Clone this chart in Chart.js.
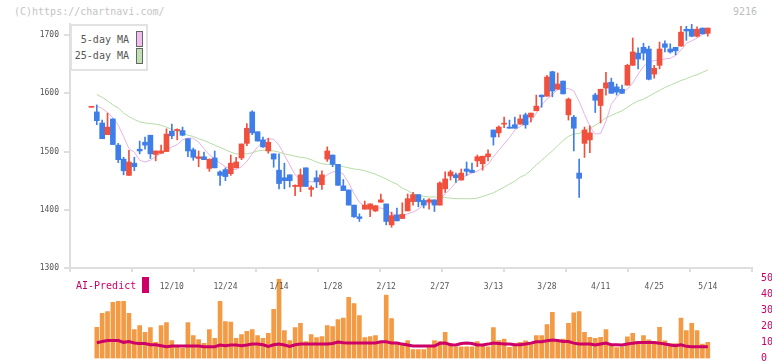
<!DOCTYPE html>
<html>
<head>
<meta charset="utf-8">
<script src="https://cdn.jsdelivr.net/npm/chart.js@4"></script>
<style>
  body { margin: 0; background: #fff; }
  #wrap { position: relative; width: 772px; height: 361px; overflow: hidden; font-family: 'DejaVu Sans Mono', monospace; }
  canvas { position: absolute; left: 0; }
  #priceChart { top: 0; z-index: 2; }
  #volChart { top: 270px; z-index: 1; }
  .txt { position: absolute; white-space: nowrap; font-size: 10px; line-height: 12px; }
  #legend { position: absolute; left: 70px; top: 24px; width: 74px; height: 43px; border: 2px solid #e2e2e2; background: #fff; z-index: 3; }
  .sw { position: absolute; width: 5px; height: 14px; border: 1px solid #666; }
</style>
</head>
<body>
<div id="wrap">
  <canvas id="priceChart" width="772" height="300"></canvas>
  <canvas id="volChart" width="772" height="91"></canvas>
  <div class="txt" style="left:14px; top:6px; color:#c4c4c4;">(C)https://chartnavi.com/</div>
  <div class="txt" style="right:15px; top:6px; color:#bdbdbd;">9216</div>
  <div id="legend">
    <div class="txt" style="right:17px; top:8px; color:#555;">5-day MA</div>
    <div class="sw" style="left:64px; top:5px; background:#efbdef;"></div>
    <div class="txt" style="right:17px; top:24px; color:#555;">25-day MA</div>
    <div class="sw" style="left:64px; top:22px; background:#bfe0b2;"></div>
  </div>
  <div class="txt" style="left:76px; top:280px; color:#cc0066; z-index:3;">AI-Predict</div>
  <div style="position:absolute; left:142px; top:277px; width:7px; height:16px; background:#cc0066; z-index:3;"></div>
</div>
<script>
// daily candles, index 0 = 11/19
const opens = [1576,1568,1549,1529,1556,1511,1487,1459,1480,1504,
  1516,1528,1495,1497,1500,1535,1536,1536,1522,1503,
  1488,1491,1471,1489,1465,1469,1462,1472,1489,1514,
  1568,1534,1520,1501,1496,1468,1455,1460,1440,1440,
  1472,1435,1455,1443,1487,1494,1478,1441,1434,1408,
  1388,1401,1401,1398,1413,1410,1374,1391,1385,1398,
  1414,1426,1416,1413,1417,1408,1436,1458,1460,1451,
  1470,1468,1484,1479,1491,1537,1532,1547,1542,1546,
  1547,1563,1559,1570,1597,1595,1637,1607,1621,1563,
  1559,1463,1514,1520,1597,1579,1609,1619,1611,1607,
  1614,1648,1669,1679,1676,1633,1648,1685,1676,1679,
  1681,1710,1710,1698,1712,1703];
const highs = [1576,1580,1554,1566,1556,1514,1490,1502,1490,1518,
  1525,1528,1501,1511,1539,1547,1539,1542,1522,1506,
  1501,1499,1487,1501,1467,1472,1494,1490,1513,1548,
  1570,1534,1525,1523,1496,1496,1480,1460,1443,1470,
  1472,1441,1467,1467,1508,1494,1478,1452,1434,1408,
  1393,1415,1410,1407,1427,1410,1396,1403,1412,1427,
  1430,1426,1419,1419,1417,1448,1465,1468,1463,1470,
  1482,1480,1494,1492,1503,1537,1544,1559,1554,1559,
  1563,1566,1566,1597,1597,1631,1638,1635,1621,1592,
  1562,1487,1542,1544,1600,1607,1636,1626,1616,1614,
  1650,1695,1678,1686,1681,1648,1688,1690,1685,1679,
  1715,1715,1719,1714,1712,1712];
const lows = [1576,1546,1522,1529,1512,1481,1460,1459,1467,1496,
  1504,1488,1484,1497,1500,1522,1520,1527,1491,1485,
  1474,1486,1466,1472,1442,1450,1459,1472,1486,1510,
  1529,1518,1507,1497,1473,1436,1436,1439,1424,1431,
  1440,1423,1438,1435,1483,1474,1442,1433,1408,1387,
  1380,1401,1388,1397,1413,1374,1370,1381,1385,1398,
  1408,1405,1403,1401,1397,1408,1430,1451,1447,1451,
  1459,1464,1474,1468,1484,1511,1525,1541,1540,1540,
  1547,1540,1551,1570,1576,1595,1594,1607,1599,1554,
  1501,1421,1490,1498,1567,1549,1597,1600,1597,1600,
  1614,1648,1642,1657,1623,1626,1642,1671,1669,1666,
  1681,1691,1697,1697,1702,1698];
const closes = [1576,1553,1522,1542,1512,1486,1467,1482,1474,1501,
  1511,1496,1501,1501,1530,1527,1538,1528,1501,1490,
  1491,1486,1487,1472,1459,1457,1480,1482,1513,1540,
  1532,1518,1508,1516,1487,1445,1450,1450,1442,1460,
  1440,1438,1448,1460,1501,1478,1442,1433,1408,1388,
  1385,1408,1410,1407,1417,1380,1390,1381,1392,1419,
  1426,1414,1408,1417,1408,1446,1453,1465,1455,1463,
  1466,1464,1491,1492,1496,1525,1542,1548,1540,1540,
  1556,1546,1566,1578,1594,1628,1604,1616,1599,1590,
  1540,1454,1537,1532,1588,1607,1618,1600,1602,1600,
  1648,1671,1659,1669,1624,1643,1676,1679,1671,1673,
  1705,1707,1698,1710,1702,1712];

const ma5 = [null,1578,1574,1567,1558,1545,1526,1505,1499,1485,1482,
  1485,1491,1497,1502,1508,1512,1520,1523,1523,1516,
  1505,1494,1488,1480,1474,1470,1469,1474,1483,1496,
  1508,1517,1522,1521,1511,1494,1477,1460,1452,1450,
  1448,1448,1453,1460,1465,1466,1461,1446,1428,1413,
  1406,1403,1403,1403,1400,1393,1391,1390,1393,1396,
  1401,1408,1411,1413,1419,1427,1436,1447,1455,1459,
  1463,1466,1472,1478,1491,1502,1513,1524,1537,1543,
  1547,1552,1566,1580,1590,1598,1606,1608,1608,1604,
  1586,1564,1543,1530,1531,1552,1581,1594,1602,1607,
  1618,1633,1646,1654,1656,1657,1659,1660,1665,1674,
  1686,1690,1695,1701,1704];
const ma25 = [null,1598,1593,1587,1580,1575,1566,1560,1555,1551,1549,
  1548,1547,1545,1542,1538,1535,1532,1528,1526,1522,
  1519,1515,1511,1507,1503,1499,1496,1496,1496,1498,
  1501,1502,1502,1501,1499,1496,1494,1492,1490,1489,
  1486,1482,1479,1478,1478,1476,1474,1472,1470,1469,
  1467,1464,1461,1457,1453,1448,1444,1437,1433,1427,
  1425,1423,1422,1422,1421,1421,1420,1419,1419,1419,
  1419,1420,1423,1426,1429,1434,1439,1444,1449,1456,
  1460,1468,1477,1485,1493,1501,1510,1519,1526,1530,
  1531,1536,1540,1545,1551,1558,1562,1566,1570,1576,
  1582,1587,1590,1595,1600,1605,1610,1614,1618,1622,
  1625,1629,1632,1636,1640];

const volume = [null,19.5,28.3,29.4,35.1,35.7,35.7,28.3,18.1,20.6,16.4,
  19.3,10.1,20.6,22.5,11.2,8.0,6.3,22.5,14.3,11.8,
  9.5,18.1,12.6,35.7,23.1,22.7,12.6,14.9,17.0,18.1,
  14.3,12.6,15.8,30.7,49.6,17.5,11.2,19.3,22.0,10.6,
  14.9,13.0,13.7,20.6,20.0,24.4,25.2,38.2,34.4,26.9,
  13.0,13.7,14.3,9.5,39.7,25.0,10.1,9.5,11.2,5.5,
  5.5,5.5,7.3,11.2,10.6,16.4,9.5,7.3,7.3,7.3,
  7.3,10.6,8.0,7.3,19.3,11.2,12.2,7.0,8.6,10.1,
  11.1,9.0,14.3,14.3,21.2,28.9,10.7,12.2,22.0,28.5,
  29.4,16.4,13.2,12.6,13.2,18.0,8.4,6.9,7.3,13.6,
  15.7,10.5,14.3,11.7,9.0,19.5,11.1,9.4,9.4,25.2,
  17.4,22.0,17.4,9.0,10.1];
const aiPredict = [null,9.9,10.6,11.2,11.2,11.2,10.1,10.6,9.7,9.3,9.3,
  8.6,8.6,8.0,7.4,7.8,7.8,7.8,7.8,7.8,7.8,
  7.4,7.4,7.4,8.4,8.0,8.4,8.4,8.0,8.4,9.0,
  9.0,8.6,7.6,8.6,9.0,8.4,7.6,8.6,9.0,9.0,
  9.0,9.0,9.0,9.0,9.4,10.3,9.9,9.7,9.7,9.7,
  9.7,9.7,9.7,10.4,10.4,9.7,9.7,9.0,8.4,7.8,
  7.8,7.8,7.8,7.8,9.5,9.7,8.6,8.4,9.4,9.7,
  9.4,8.4,8.4,9.0,9.7,9.4,9.0,9.0,8.6,8.6,
  9.0,9.6,10.5,10.5,11.1,11.6,11.3,10.6,10.6,9.6,
  9.0,9.0,9.0,8.4,9.0,9.6,8.6,8.6,8.4,9.0,
  9.6,10.0,10.0,10.0,10.0,9.6,9.0,8.4,8.0,8.6,
  7.6,7.4,7.4,7.4,7.4];

const priceTicks = [1300, 1400, 1500, 1600, 1700];
const volTicks = [0, 10, 20, 30, 40, 50];
const dateTicks = [15, 25, 35, 45, 55, 65, 75, 85, 95, 105, 115];
const dateLabels = ['12/10', '12/24', '1/14', '1/28', '2/12', '2/27', '3/13', '3/28', '4/11', '4/25', '5/14'];

const RED = '#f0503c';
const BLUE = '#3f7ee8';
const FONT = "'DejaVu Sans Mono', monospace";
const xMin = -4, xMax = 123.25;

const idx = closes.map((_, i) => i);
const candleColors = idx.map(i => closes[i] >= opens[i] ? RED : BLUE);

function noPad(s) {
    s.paddingTop = 0; s.paddingBottom = 0; s.paddingLeft = 0; s.paddingRight = 0;
}

// Price chart
new Chart(document.getElementById('priceChart'), {
    type: 'bar',
    data: {
        datasets: [{
            label: 'body',
            data: idx.map(i => ({ x: i, y: [opens[i], closes[i]] })),
            backgroundColor: candleColors,
            barThickness: 5,
            minBarLength: 1,
            grouped: false,
            order: 0
        }, {
            label: 'wick',
            data: idx.map(i => ({ x: i, y: [lows[i], highs[i]] })),
            backgroundColor: candleColors,
            barThickness: 1,
            grouped: false,
            order: 1
        }, {
            type: 'line',
            label: '5-day MA',
            data: idx.map(i => ({ x: i, y: ma5[i] })),
            borderColor: '#e6b2e6',
            borderWidth: 1,
            pointRadius: 0,
            tension: 0,
            order: 2
        }, {
            type: 'line',
            label: '25-day MA',
            data: idx.map(i => ({ x: i, y: ma25[i] })),
            borderColor: '#b6dca6',
            borderWidth: 1,
            pointRadius: 0,
            tension: 0,
            order: 3
        }]
    },
    options: {
        responsive: false,
        animation: false,
        events: [],
        layout: { padding: { top: 24, right: 20, bottom: 8, left: 0 } },
        plugins: { legend: { display: false }, tooltip: { enabled: false } },
        scales: {
            x: {
                type: 'linear', min: xMin, max: xMax, offset: false, position: 'bottom', weight: 0,
                afterBuildTicks: s => {
                    s.ticks = [0, 1, 2, 3, 4, 5, 6, 7, 8, 9, 10, 11].map(k => ({ value: xMin + k * (xMax - xMin) / 11 }));
                },
                ticks: { display: false },
                grid: { offset: false, drawOnChartArea: false, drawTicks: true, tickLength: 4, color: '#dedede', lineWidth: 2 },
                border: { display: true, color: '#dedede', width: 2 },
                afterFit: s => { s.height = 4; noPad(s); }
            },
            xd: {
                type: 'linear', min: xMin, max: xMax, offset: false, position: 'bottom', weight: 1,
                afterBuildTicks: s => { s.ticks = dateTicks.map(v => ({ value: v })); },
                ticks: {
                    autoSkip: false, maxRotation: 0, padding: 2, color: '#555',
                    font: { family: FONT, size: 8 },
                    callback: v => dateLabels[dateTicks.indexOf(v)]
                },
                grid: { display: false, offset: false },
                border: { display: false },
                afterFit: s => { s.height = 20; noPad(s); }
            },
            y: {
                type: 'linear', min: 1300, max: 1719, position: 'left',
                afterBuildTicks: s => { s.ticks = priceTicks.map(v => ({ value: v })); },
                ticks: { padding: 5, color: '#555', font: { family: FONT, size: 8 }, callback: v => String(v) },
                grid: { drawOnChartArea: false, tickLength: 6, color: '#dedede', lineWidth: 2 },
                border: { color: '#dedede', width: 2 },
                afterFit: s => { s.width = 70; noPad(s); }
            }
        }
    }
});

// Volume + AI-Predict chart
new Chart(document.getElementById('volChart'), {
    type: 'bar',
    data: {
        datasets: [{
            type: 'line',
            label: 'AI-Predict',
            data: idx.map(i => ({ x: i, y: aiPredict[i] })),
            borderColor: '#cc0066',
            borderWidth: 3,
            pointRadius: 0,
            tension: 0,
            order: 0
        }, {
            label: 'volume',
            data: idx.map(i => ({ x: i, y: volume[i] })),
            backgroundColor: '#f39a45',
            barThickness: 4,
            order: 1
        }]
    },
    options: {
        responsive: false,
        animation: false,
        events: [],
        layout: { padding: { top: 8.5, right: 0, bottom: 2.5, left: 70 } },
        plugins: { legend: { display: false }, tooltip: { enabled: false } },
        scales: {
            x: { type: 'linear', min: xMin, max: xMax, offset: false, grid: { offset: false }, display: false },
            y: {
                type: 'linear', min: 0, max: 50, position: 'right',
                afterBuildTicks: s => { s.ticks = volTicks.map(v => ({ value: v })); },
                ticks: { padding: 1, color: '#cc0066', font: { family: FONT, size: 10 } },
                grid: { display: false },
                border: { display: false },
                afterFit: s => { s.width = 20; noPad(s); }
            }
        }
    }
});
</script>
</body>
</html>
